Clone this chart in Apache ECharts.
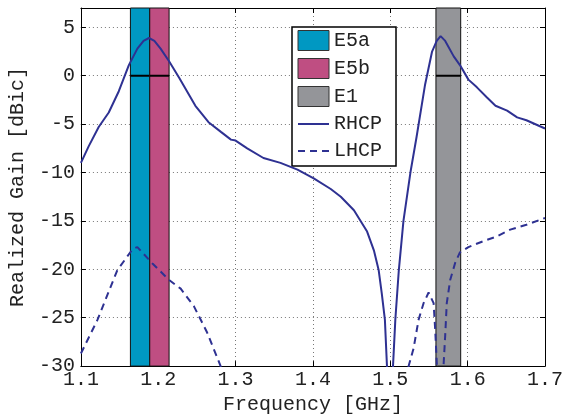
<!DOCTYPE html>
<html>
<head>
<meta charset="utf-8">
<script src="https://cdn.jsdelivr.net/npm/echarts@6/dist/echarts.min.js"></script>
<style>
  html, body { margin: 0; padding: 0; background: #fff; }
  #chart { width: 574px; height: 420px; }
</style>
</head>
<body>
<div id="chart"></div>
<script>
// Frequency range (GHz) and gain range (dBic)
const xMin = 1.1, xMax = 1.7, xStep = 0.1;
const yMin = -30, yMax = 7, yStep = 5;

// Galileo frequency bands [start, end] in GHz, with the 0 dBic level line
const bandE5a = [[1.164, 1.189]];
const bandE5b = [[1.189, 1.214]];
const bandE1 = [[1.559, 1.591]];
const bandLevel = 0;

// Realized gain, right-hand circular polarisation [GHz, dBic]
const rhcp = [
  [1.100, -9.0], [1.110, -7.3], [1.123, -5.3], [1.136, -3.8], [1.149, -1.6],
  [1.162, 1.1], [1.173, 2.8], [1.181, 3.6], [1.188, 3.9], [1.195, 3.6],
  [1.203, 2.8], [1.214, 1.5], [1.227, -0.2], [1.248, -3.1], [1.265, -4.8],
  [1.281, -5.8], [1.294, -6.6], [1.300, -6.7], [1.315, -7.5], [1.336, -8.5],
  [1.358, -9.0], [1.380, -9.7], [1.401, -10.6], [1.423, -11.7], [1.436, -12.5],
  [1.453, -13.9], [1.470, -16.1], [1.479, -18.1], [1.485, -20.1], [1.489, -22.5],
  [1.493, -25.2], [1.4957, -30], [1.500, -40], [1.5035, -30], [1.5065, -25.2],
  [1.511, -20.1], [1.517, -15.0], [1.526, -10.0], [1.534, -6.3], [1.545, -0.9],
  [1.554, 2.5], [1.560, 3.6], [1.565, 4.1], [1.571, 3.6], [1.582, 2.0],
  [1.590, 1.1], [1.601, -0.4], [1.612, -1.2], [1.625, -2.25], [1.636, -3.1],
  [1.651, -3.6], [1.664, -4.3], [1.676, -4.6], [1.700, -5.45]
];

// Realized gain, left-hand circular polarisation [GHz, dBic]
const lhcp = [
  [1.100, -28.7], [1.1215, -25.2], [1.147, -20.1], [1.167, -17.9], [1.173, -17.7],
  [1.1925, -19.4], [1.214, -21.1], [1.229, -22.0], [1.246, -23.8], [1.263, -26.5],
  [1.2806, -30], [1.285, -40], null,
  [1.515, -40], [1.5237, -30], [1.530, -28.2], [1.5366, -25.2], [1.543, -23.5],
  [1.5495, -22.4], [1.556, -23.5], [1.558, -26.2], [1.5603, -30], [1.5645, -40],
  [1.5688, -30], [1.571, -26.8], [1.573, -23.5], [1.5774, -21.1], [1.584, -19.3],
  [1.590, -18.25], [1.601, -17.7], [1.620, -17.1], [1.638, -16.6], [1.655, -15.9],
  [1.676, -15.4], [1.700, -14.7]
];

const lineColor = '#2e3192';
const fontFamily = '"Liberation Mono", "DejaVu Sans Mono", monospace';

// Filled band spanning the whole gain range, with a level line at 0 dBic
function renderBand(params, api) {
  const p0 = api.coord([api.value(0), yMax]);
  const p1 = api.coord([api.value(1), yMin]);
  const l0 = api.coord([api.value(0), bandLevel]);
  const l1 = api.coord([api.value(1), bandLevel]);
  return {
    type: 'group',
    children: [
      {
        type: 'rect',
        shape: { x: p0[0], y: p0[1], width: p1[0] - p0[0], height: p1[1] - p0[1] },
        style: { fill: api.visual('color'), stroke: '#111', lineWidth: 1 }
      },
      {
        type: 'line',
        shape: { x1: l0[0], y1: l0[1], x2: l1[0], y2: l1[1] },
        style: { stroke: '#000', lineWidth: 2 }
      }
    ]
  };
}

function bandSeries(name, data, color) {
  return {
    name: name,
    type: 'custom',
    renderItem: renderBand,
    data: data,
    itemStyle: { color: color },
    encode: { x: [0, 1] },
    z: 1,
    silent: true
  };
}

const chart = echarts.init(document.getElementById('chart'), null, { renderer: 'canvas' });

const tickLabel = { color: '#222', fontFamily: fontFamily, fontSize: 20 };
const gridLine = { show: true, lineStyle: { color: '#777', type: [1, 3], width: 1 } };
const hiddenMarker = { opacity: 0 };

chart.setOption({
  animation: false,
  backgroundColor: '#fff',
  grid: { left: 80, right: 29, top: 8, bottom: 45, containLabel: false },
  legend: {
    orient: 'vertical',
    left: 292,
    top: 27,
    padding: [3, 14, 5, 5],
    itemGap: 7,
    itemWidth: 31,
    itemHeight: 20,
    borderColor: '#000',
    borderWidth: 1.5,
    backgroundColor: '#fff',
    textStyle: { fontFamily: fontFamily, fontSize: 20, color: '#222' },
    data: [
      { name: 'E5a', icon: 'rect', itemStyle: { borderColor: '#333', borderWidth: 1 } },
      { name: 'E5b', icon: 'rect', itemStyle: { borderColor: '#333', borderWidth: 1 } },
      { name: 'E1', icon: 'rect', itemStyle: { borderColor: '#333', borderWidth: 1 } },
      { name: 'RHCP', itemStyle: hiddenMarker },
      { name: 'LHCP', itemStyle: hiddenMarker }
    ]
  },
  xAxis: [
    {
      type: 'value', min: xMin, max: xMax, interval: xStep,
      name: 'Frequency [GHz]', nameLocation: 'middle', nameGap: 25,
      nameTextStyle: { fontFamily: fontFamily, fontSize: 20, color: '#222' },
      axisLine: { onZero: false, lineStyle: { color: '#000', width: 1 } },
      axisTick: { inside: true, length: 5, lineStyle: { color: '#000' } },
      axisLabel: Object.assign({ margin: 4, formatter: v => v.toFixed(1) }, tickLabel),
      splitLine: gridLine
    },
    {
      type: 'value', position: 'top', min: xMin, max: xMax, interval: xStep,
      axisLine: { show: true, onZero: false, lineStyle: { color: '#000', width: 1 } },
      axisTick: { inside: true, length: 5, lineStyle: { color: '#000' } },
      axisLabel: { show: false },
      splitLine: { show: false }
    }
  ],
  yAxis: [
    {
      type: 'value', min: yMin, max: yMax, interval: yStep,
      name: 'Realized Gain [dBic]', nameLocation: 'middle', nameGap: 47,
      nameTextStyle: { fontFamily: fontFamily, fontSize: 20, color: '#222' },
      axisLine: { show: true, onZero: false, lineStyle: { color: '#000', width: 1 } },
      axisTick: { show: true, inside: true, length: 5, lineStyle: { color: '#000' } },
      axisLabel: Object.assign({ margin: 6, showMaxLabel: false }, tickLabel),
      splitLine: gridLine
    },
    {
      type: 'value', position: 'right', min: yMin, max: yMax, interval: yStep,
      axisLine: { show: true, onZero: false, lineStyle: { color: '#000', width: 1 } },
      axisTick: { show: true, inside: true, length: 5, lineStyle: { color: '#000' } },
      axisLabel: { show: false },
      splitLine: { show: false }
    }
  ],
  series: [
    bandSeries('E5a', bandE5a, '#0098c2'),
    bandSeries('E5b', bandE5b, '#bf4e82'),
    bandSeries('E1', bandE1, '#949599'),
    {
      name: 'RHCP', type: 'line', data: rhcp, showSymbol: false, symbol: 'none',
      clip: true, z: 5,
      lineStyle: { color: lineColor, width: 2 },
      itemStyle: { color: lineColor }
    },
    {
      name: 'LHCP', type: 'line', data: lhcp, showSymbol: false, symbol: 'none',
      clip: true, connectNulls: false, z: 5,
      lineStyle: { color: lineColor, width: 2, type: [7, 5] },
      itemStyle: { color: lineColor }
    }
  ]
});
</script>
</body>
</html>
